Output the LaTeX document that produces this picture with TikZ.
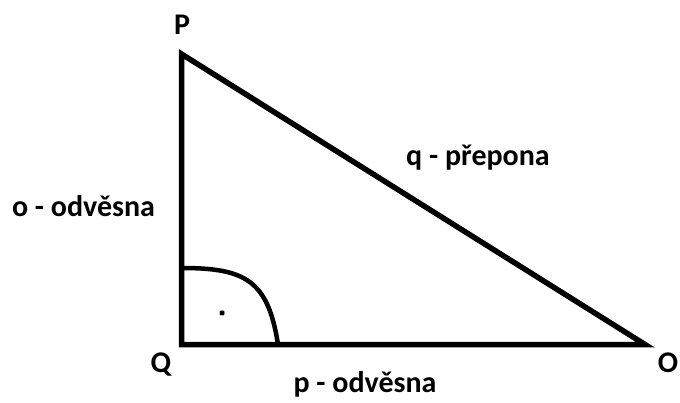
\documentclass[tikz,border=0pt]{standalone}
\usepackage{fontspec}
\setmainfont{Carlito}
\begin{document}
\begin{tikzpicture}[x=1pt,y=-1pt,
  lbl/.style={font=\fontsize{30}{33}\selectfont\bfseries, inner sep=0pt, anchor=base},
  edge/.style={line width=5.5pt, line join=miter}]
\useasboundingbox (0,0) rectangle (680,403);
\coordinate (Pv) at (181.5,54);
\coordinate (Qv) at (181.5,344.5);
\coordinate (Ov) at (645,344.5);
\coordinate (a1) at (181.5,268);
\coordinate (a2) at (278,344.5);
\draw[edge] (Pv) -- (Qv) -- (Ov) -- cycle;
\draw[line width=4.5pt] (a1) .. controls (245,268) and (268,280) .. (a2);
\coordinate (m) at (222,313);
\draw[line width=1.3pt] ([shift={(-2.5,0)}]m) -- ([shift={(2.5,0)}]m)
  ([shift={(0,-2.5)}]m) -- ([shift={(0,2.5)}]m)
  ([shift={(-2,-2)}]m) -- ([shift={(2,2)}]m)
  ([shift={(-2,2)}]m) -- ([shift={(2,-2)}]m);
\node[lbl] (P) at (182,35) {P};
\node[lbl] (Q) at (161,372) {Q};
\node[lbl] (O) at (668,372) {O};
\node[lbl] (o) at (83.5,217) {o - odvěsna};
\node[lbl] (q) at (478,166) {q - přepona};
\node[lbl] (p) at (365,392) {p - odvěsna};
\end{tikzpicture}
\end{document}
